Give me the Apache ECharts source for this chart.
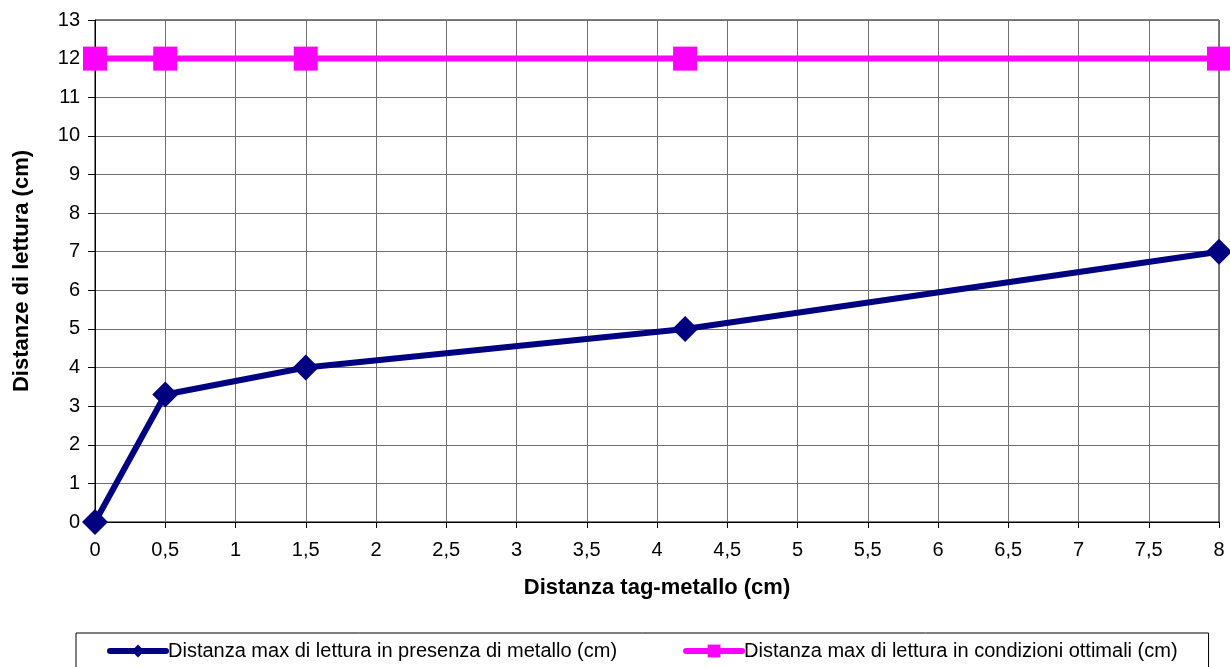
<!DOCTYPE html>
<html>
<head>
<meta charset="utf-8">
<script src="https://cdn.jsdelivr.net/npm/echarts@6/dist/echarts.min.js"></script>
<style>
  html, body { margin: 0; padding: 0; background: #fff; }
  #chart { width: 1230px; height: 667px; }
</style>
</head>
<body>
<div id="chart"></div>
<script>
// Distance tag-metal (cm) and measured max reading distances (cm)
const tagMetalDistance = [0, 0.5, 1.5, 4.2, 8];
const readWithMetal = [0, 3.3, 4, 5, 7];
const readOptimal = [12, 12, 12, 12, 12];

const seriesNames = [
  'Distanza max di lettura in presenza di metallo (cm)',
  'Distanza max di lettura in condizioni ottimali (cm)'
];
const xTitle = 'Distanza tag-metallo (cm)';
const yTitle = 'Distanze di lettura (cm)';

const pairs = (xs, ys) => xs.map((x, i) => [x, ys[i]]);
const comma = v => String(v).replace('.', ',');

const font = 'Liberation Sans, Arial, sans-serif';
const chart = echarts.init(document.getElementById('chart'), null, { renderer: 'canvas' });

chart.setOption({
  animation: false,
  backgroundColor: '#fff',
  textStyle: { fontFamily: font, color: '#000' },
  grid: {
    left: 95, top: 20, right: 11, bottom: 145,
    show: true, borderColor: '#000', borderWidth: 1
  },
  legend: {
    left: 76, top: 633,
    padding: [8, 31, 14, 31],
    borderColor: '#000', borderWidth: 1,
    itemWidth: 56, itemHeight: 16, itemGap: 66,
    lineStyle: { width: 6, cap: 'round' },
    textStyle: { fontFamily: font, fontSize: 20, color: '#000', padding: [0, 0, 0, -3] },
    data: seriesNames
  },
  xAxis: {
    type: 'value', min: 0, max: 8, interval: 0.5,
    name: xTitle, nameLocation: 'middle', nameGap: 55,
    nameTextStyle: { fontFamily: font, fontSize: 22, fontWeight: 'bold', color: '#000' },
    axisLine: { lineStyle: { color: '#000', width: 1 } },
    axisTick: { show: true, length: 6, lineStyle: { color: '#000' } },
    axisLabel: { formatter: comma, fontSize: 20, color: '#000', margin: 18, fontFamily: font },
    splitLine: { show: true, lineStyle: { color: '#707070', width: 1 } }
  },
  yAxis: {
    type: 'value', min: 0, max: 13, interval: 1,
    name: yTitle, nameLocation: 'middle', nameGap: 62,
    nameTextStyle: { fontFamily: font, fontSize: 22, fontWeight: 'bold', color: '#000' },
    axisLine: { show: true, lineStyle: { color: '#000', width: 1 } },
    axisTick: { show: true, length: 7, lineStyle: { color: '#000' } },
    axisLabel: { fontSize: 20, color: '#000', margin: 15, fontFamily: font },
    splitLine: { show: true, lineStyle: { color: '#707070', width: 1 } }
  },
  series: [
    {
      name: seriesNames[0],
      type: 'line',
      data: pairs(tagMetalDistance, readWithMetal),
      color: '#000080',
      lineStyle: { color: '#000080', width: 6 },
      symbol: 'diamond', symbolSize: [26, 26],
      itemStyle: { color: '#000080' },
      z: 3
    },
    {
      name: seriesNames[1],
      type: 'line',
      data: pairs(tagMetalDistance, readOptimal),
      color: '#ff00ff',
      lineStyle: { color: '#ff00ff', width: 6 },
      symbol: 'rect', symbolSize: [24, 24],
      itemStyle: { color: '#ff00ff' },
      z: 4
    }
  ]
});
</script>
</body>
</html>
